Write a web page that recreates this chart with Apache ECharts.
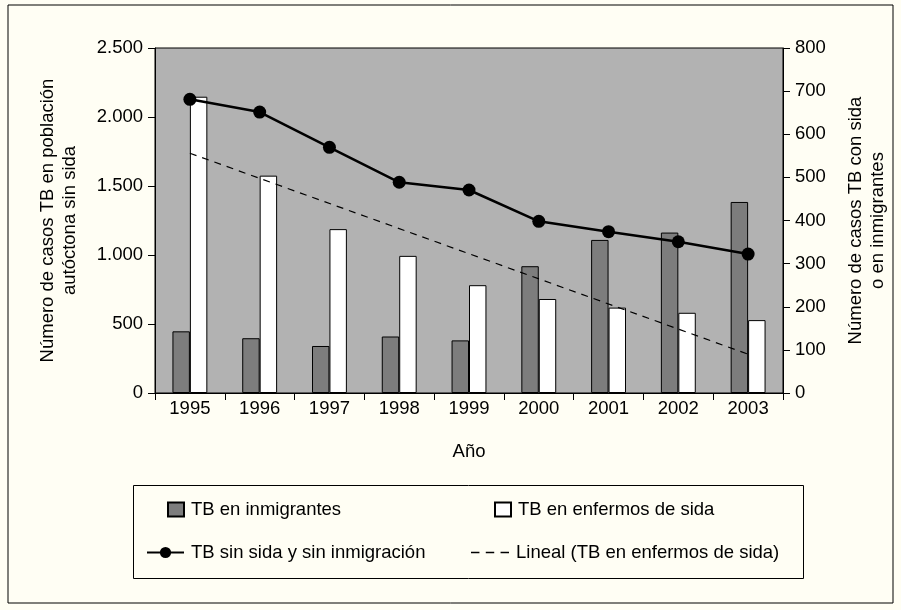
<!DOCTYPE html>
<html>
<head>
<meta charset="utf-8">
<script src="https://cdn.jsdelivr.net/npm/echarts@6/dist/echarts.min.js"></script>
<style>
  html, body { margin: 0; padding: 0; background: #fffef4; }
  #chart { width: 901px; height: 610px; }
</style>
</head>
<body>
<div id="chart"></div>
<script>
const years = ['1995', '1996', '1997', '1998', '1999', '2000', '2001', '2002', '2003'];
const inmigrantes = [143, 127, 109, 131, 122, 294, 355, 372, 443];
const sida = [687, 504, 380, 318, 250, 218, 198, 186, 169];
const sinSidaSinInmig = [2128, 2036, 1780, 1527, 1471, 1244, 1169, 1096, 1007];
// trend: only first and last point, nulls are bridged
const linealSida = [556, null, null, null, null, null, null, null, 90];

const chart = echarts.init(document.getElementById('chart'));

const font = 'Liberation Sans, Arial, sans-serif';
const txt = { color: '#000', fontFamily: font, fontSize: 18.5 };

const thousands = (v) => String(v).replace(/\B(?=(\d{3})+(?!\d))/g, '.');

const legendBase = {
    orient: 'horizontal',
    padding: 0,
    itemGap: 0,
    itemWidth: 16,
    itemHeight: 14,
    textStyle: { ...txt, padding: [0, 0, 0, 2] },
    selectedMode: false
};

const option = {
    backgroundColor: '#fffef4',
    animation: false,
    graphic: [
        {
            type: 'rect',
            shape: { x: 8, y: 5, width: 885, height: 598 },
            style: { fill: 'none', stroke: '#000', lineWidth: 1 },
            silent: true
        },
        {
            type: 'rect',
            shape: { x: 133.5, y: 485.5, width: 670, height: 93 },
            style: { fill: 'none', stroke: '#000', lineWidth: 1 },
            silent: true
        }
    ],
    legend: [
        { ...legendBase, data: [{ name: 'TB en inmigrantes', icon: 'rect' }], left: 167, top: 500 },
        { ...legendBase, data: [{ name: 'TB en enfermos de sida', icon: 'rect' }], left: 494, top: 500 },
        { ...legendBase, data: ['TB sin sida y sin inmigración'], left: 146, top: 543, itemWidth: 37 },
        {
            ...legendBase,
            data: [{ name: 'Lineal (TB en enfermos de sida)', icon: 'path://M0,0h8v1.2h-8zM14,0h8v1.2h-8zM28,0h8v1.2h-8z' }],
            left: 471, top: 543, itemWidth: 38,
            itemStyle: { color: '#000', borderWidth: 0 }
        }
    ],
    grid: {
        left: 155,
        right: 118,
        top: 48,
        bottom: 217,
        show: true,
        backgroundColor: '#b2b2b2',
        borderColor: '#000',
        borderWidth: 1
    },
    xAxis: {
        type: 'category',
        data: years,
        name: 'Año',
        nameLocation: 'middle',
        nameGap: 49,
        nameTextStyle: txt,
        axisLine: { lineStyle: { color: '#000', width: 1 } },
        axisTick: { show: true, length: 7, lineStyle: { color: '#000' } },
        axisLabel: { ...txt, margin: 6 }
    },
    yAxis: [
        {
            type: 'value',
            min: 0,
            max: 2500,
            interval: 500,
            position: 'left',
            name: 'Número de casos TB en población\nautóctona sin sida',
            nameLocation: 'middle',
            nameRotate: 90,
            nameGap: 74,
            nameTextStyle: { ...txt, lineHeight: 22 },
            axisLine: { show: true, lineStyle: { color: '#000' } },
            axisTick: { show: true, length: 7, lineStyle: { color: '#000' } },
            axisLabel: { ...txt, margin: 12, formatter: thousands },
            splitLine: { show: false }
        },
        {
            type: 'value',
            min: 0,
            max: 800,
            interval: 100,
            position: 'right',
            name: 'Número de casos TB con sida\no en inmigrantes',
            nameLocation: 'middle',
            nameRotate: 90,
            nameGap: 62,
            nameTextStyle: { ...txt, lineHeight: 22 },
            axisLine: { show: true, lineStyle: { color: '#000' } },
            axisTick: { show: true, length: 7, lineStyle: { color: '#000' } },
            axisLabel: { ...txt, margin: 12 },
            splitLine: { show: false }
        }
    ],
    series: [
        {
            name: 'TB en inmigrantes',
            type: 'bar',
            yAxisIndex: 1,
            data: inmigrantes,
            barWidth: '25%',
            barGap: '0%',
            itemStyle: { color: '#7d7d7d', borderColor: '#000', borderWidth: 1 }
        },
        {
            name: 'TB en enfermos de sida',
            type: 'bar',
            yAxisIndex: 1,
            data: sida,
            barWidth: '25%',
            barGap: '0%',
            itemStyle: { color: '#ffffff', borderColor: '#000', borderWidth: 1 }
        },
        {
            name: 'TB sin sida y sin inmigración',
            type: 'line',
            yAxisIndex: 0,
            data: sinSidaSinInmig,
            symbol: 'circle',
            symbolSize: 13,
            lineStyle: { color: '#000', width: 2.5 },
            itemStyle: { color: '#000' },
            z: 5
        },
        {
            name: 'Lineal (TB en enfermos de sida)',
            type: 'line',
            yAxisIndex: 1,
            data: linealSida,
            connectNulls: true,
            symbol: 'none',
            lineStyle: { color: '#000', width: 1.2, type: [7, 6] },
            itemStyle: { color: '#000' },
            z: 4
        }
    ]
};

chart.setOption(option);
</script>
</body>
</html>
